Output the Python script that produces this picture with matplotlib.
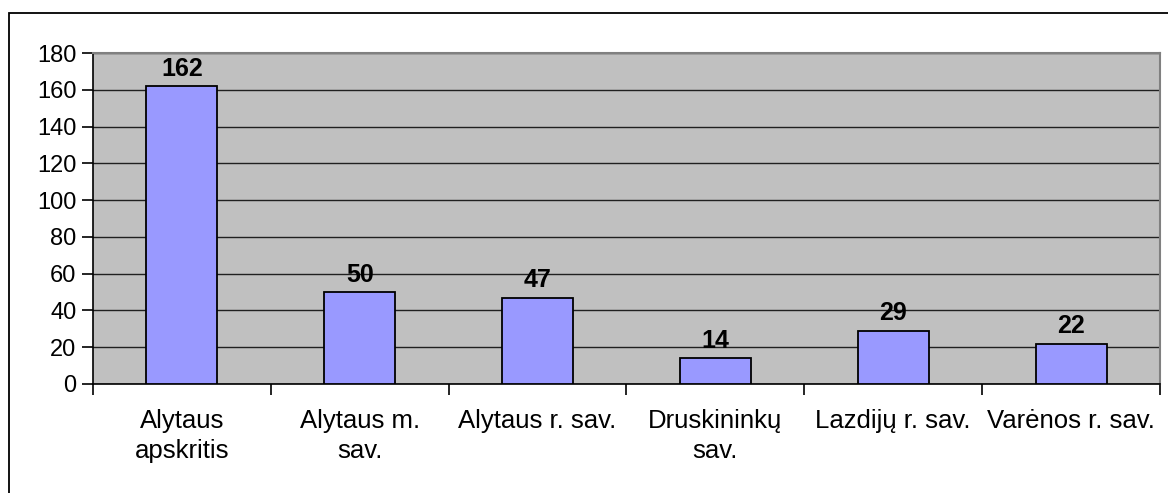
import matplotlib
matplotlib.use("Agg")
import matplotlib.pyplot as plt
from matplotlib.patches import Rectangle

plt.rcParams['font.family'] = ['Liberation Sans', 'DejaVu Sans']

categories = ["Alytaus\napskritis", "Alytaus m.\nsav.", "Alytaus r. sav.",
              "Druskininkų\nsav.", "Lazdijų r. sav.", "Varėnos r. sav."]
values = [162, 50, 47, 14, 29, 22]
y_ticks = list(range(0, 181, 20))

fig = plt.figure(figsize=(11.68, 4.93), dpi=100)
fig.patch.set_facecolor("white")

# outer chart frame (runs off the right and bottom edges)
fig.patches.append(Rectangle((9 / 1168, -0.05), 1.1, 0.05 + 1 - 13 / 493,
                             transform=fig.transFigure, fill=False,
                             edgecolor="black", linewidth=1.3))

ax = fig.add_axes([93 / 1168, 1 - 384 / 493, (1160 - 93) / 1168, (384 - 53) / 493])
ax.set_facecolor("#C0C0C0")

x = list(range(len(values)))
ax.bar(x, values, width=0.4, color="#9999FF", edgecolor="black", linewidth=1.3, zorder=3)
for xi, v in zip(x, values):
    ax.annotate(str(v), (xi, v), xytext=(0, 4), textcoords="offset points",
                ha="center", va="bottom", fontsize=18, fontweight="bold", zorder=4)

ax.set_xlim(-0.5, len(values) - 0.5)
ax.set_ylim(0, 180)
ax.set_yticks(y_ticks)
ax.set_yticklabels([str(t) for t in y_ticks], fontsize=17)
ax.yaxis.grid(True, color="#202020", linewidth=1.0, zorder=1)
ax.set_axisbelow(True)

ax.set_xticks([i - 0.5 for i in range(len(values) + 1)])
ax.set_xticklabels([])
ax.set_xticks(x, minor=True)
ax.set_xticklabels(categories, minor=True, fontsize=18.5, linespacing=1.32)
ax.tick_params(axis="x", which="major", direction="out", length=8, width=1.2, color="black")
ax.tick_params(axis="x", which="minor", length=0, pad=18)
ax.tick_params(axis="y", direction="out", length=8, width=1.2, pad=4)

for side in ("top", "right"):
    ax.spines[side].set_color("#808080")
    ax.spines[side].set_linewidth(1.5)
for side in ("left", "bottom"):
    ax.spines[side].set_color("black")
    ax.spines[side].set_linewidth(1.2)

fig.savefig("out.png", dpi=100)
